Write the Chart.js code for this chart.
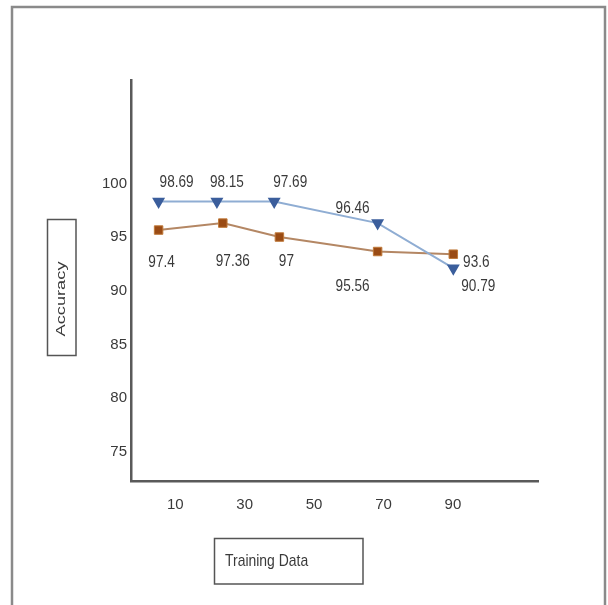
<!DOCTYPE html>
<html>
<head>
<meta charset="utf-8">
<script src="https://cdn.jsdelivr.net/npm/chart.js@4"></script>
<style>
  body { margin: 0; background: #fff; }
  #chartCanvas { display: block; }
</style>
</head>
<body>
<canvas id="chartCanvas" width="608" height="605"></canvas>
<script>
var canvas = document.getElementById("chartCanvas");

// values (the points do not sit on their printed labels)
var xTicks = [10, 30, 50, 70, 90];
var yTicks = [75, 80, 85, 90, 95, 100];

var blueX = [5.2, 22.0, 38.5, 68.3, 90.1];
var blueY = [98.3, 98.3, 98.3, 96.3, 92.1];
var blueLabels = ["98.69", "98.15", "97.69", "96.46", "90.79"];

var orangeX = [5.2, 23.7, 40.0, 68.3, 90.1];
var orangeY = [95.65, 96.3, 95.0, 93.65, 93.4];
var orangeLabels = ["97.4", "97.36", "97", "95.56", "93.6"];

function toPoints(xs, ys) {
  var pts = [];
  for (var i = 0; i < xs.length; i++) {
    pts.push({ x: xs[i], y: ys[i] });
  }
  return pts;
}

var textColor = "#3a3a3a";
var sans = "'Liberation Sans', Arial, sans-serif";

// the original uses a narrow font, so squeeze text horizontally
function fillSqueezed(ctx, text, x, y, sx) {
  ctx.save();
  ctx.translate(x, y);
  ctx.scale(sx, 1);
  ctx.fillText(text, 0, 0);
  ctx.restore();
}

// label offsets from their point, in px (dx, dy of the text centre)
var labelPlugin = {
  id: "pointLabels",
  afterDatasetsDraw: function (chart, args, opts) {
    var ctx = chart.ctx;
    ctx.save();
    ctx.font = "17px " + sans;
    ctx.fillStyle = textColor;
    ctx.textAlign = "center";
    ctx.textBaseline = "middle";
    chart.data.datasets.forEach(function (ds, di) {
      var meta = chart.getDatasetMeta(di);
      var offs = opts.offsets[di];
      meta.data.forEach(function (pt, i) {
        fillSqueezed(ctx, ds.labels[i], pt.x + offs[i][0], pt.y + offs[i][1], 0.8);
      });
    });
    ctx.restore();
  }
};

var framePlugin = {
  id: "frame",
  afterDraw: function (chart) {
    var ctx = chart.ctx;
    ctx.save();
    // outer frame
    ctx.strokeStyle = "#8a8a8a";
    ctx.lineWidth = 2.5;
    ctx.beginPath();
    ctx.moveTo(12, 605);
    ctx.lineTo(12, 7);
    ctx.lineTo(605, 7);
    ctx.lineTo(605, 605);
    ctx.stroke();

    // y title box
    ctx.strokeStyle = "#555";
    ctx.lineWidth = 1.5;
    ctx.strokeRect(47.5, 219.5, 28.5, 136);
    ctx.save();
    ctx.translate(62, 299);
    ctx.rotate(-Math.PI / 2);
    ctx.font = "12.5px " + sans;
    var w = ctx.measureText("Accuracy").width;
    ctx.scale(75 / w, 1);
    ctx.fillStyle = textColor;
    ctx.textAlign = "center";
    ctx.textBaseline = "middle";
    ctx.fillText("Accuracy", 0, 0);
    ctx.restore();

    // x title box
    ctx.strokeRect(214.5, 538.5, 148.5, 45.5);
    ctx.font = "17px " + sans;
    ctx.fillStyle = textColor;
    ctx.textAlign = "left";
    ctx.textBaseline = "middle";
    fillSqueezed(ctx, "Training Data", 225, 561, 0.82);
    ctx.restore();
  }
};

var sensorChart = new Chart(canvas, {
  type: "line",
  data: {
    datasets: [
      {
        label: "Series 1",
        data: toPoints(blueX, blueY),
        labels: blueLabels,
        borderColor: "#8fadd3",
        backgroundColor: "#3b5e9c",
        borderWidth: 2,
        pointStyle: "triangle",
        rotation: 180,
        pointRadius: 5.5,
        pointBorderColor: "#3b5e9c",
        pointBackgroundColor: "#3b5e9c",
        tension: 0
      },
      {
        label: "Series 2",
        data: toPoints(orangeX, orangeY),
        labels: orangeLabels,
        borderColor: "#b48764",
        backgroundColor: "#9c4e18",
        borderWidth: 2,
        pointStyle: "rect",
        pointRadius: 6,
        pointBorderWidth: 1,
        pointBorderColor: "#c07a3a",
        pointBackgroundColor: "#9a4b14",
        tension: 0
      }
    ]
  },
  options: {
    responsive: false,
    animation: false,
    layout: { padding: { left: 0, top: 80, right: 70, bottom: 0 } },
    plugins: {
      legend: { display: false },
      tooltip: { enabled: false },
      pointLabels: {
        offsets: [
          [[18, -19], [10, -19], [16, -19], [-25, -15], [25, 18]],
          [[3, 32], [10, 38], [7, 24], [-25, 35], [23, 8]]
        ]
      }
    },
    scales: {
      x: {
        type: "linear",
        min: -2.75,
        max: 114.5,
        afterBuildTicks: function (scale) {
          scale.ticks = xTicks.map(function (v) { return { value: v }; });
        },
        afterFit: function (scale) { scale.height = 124; },
        grid: { display: false, drawTicks: false },
        border: { display: true, color: "#5a5a5a", width: 2.5 },
        ticks: {
          color: textColor,
          padding: 15,
          maxRotation: 0,
          autoSkip: false,
          font: { family: sans, size: 15 }
        }
      },
      y: {
        type: "linear",
        min: 72.27,
        max: 109.63,
        afterBuildTicks: function (scale) {
          scale.ticks = yTicks.map(function (v) { return { value: v }; });
        },
        afterFit: function (scale) { scale.width = 131; },
        grid: { display: false, drawTicks: false },
        border: { display: true, color: "#5a5a5a", width: 2.5 },
        ticks: {
          color: textColor,
          padding: 4,
          autoSkip: false,
          font: { family: sans, size: 15 }
        }
      }
    }
  },
  plugins: [labelPlugin, framePlugin]
});
</script>
</body>
</html>
